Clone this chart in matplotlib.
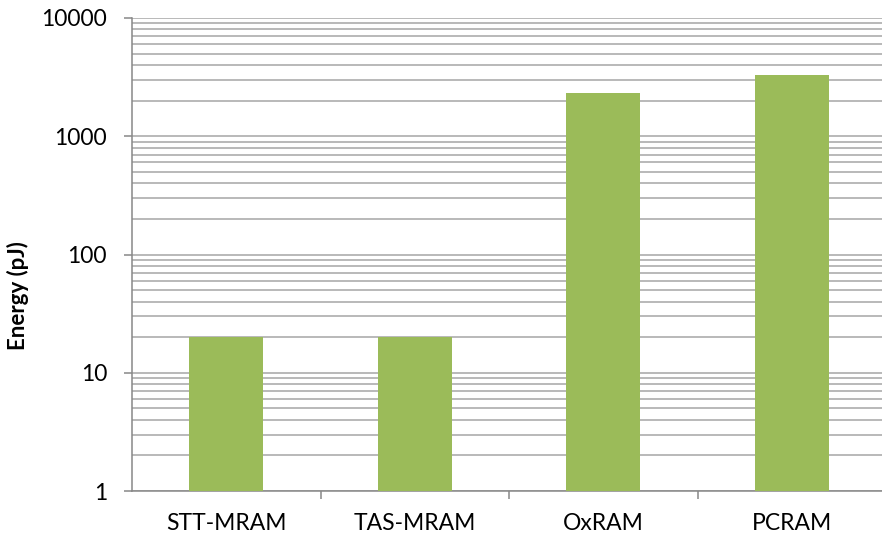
import matplotlib
matplotlib.use("Agg")
import matplotlib.pyplot as plt
from matplotlib.ticker import LogLocator, FixedFormatter, NullFormatter, FixedLocator

# data
categories = ["STT-MRAM", "TAS-MRAM", "OxRAM", "PCRAM"]
energy_pj = [20, 20, 2300, 3300]
y_ticks = [1, 10, 100, 1000, 10000]
y_tick_labels = ["1", "10", "100", "1000", "10000"]

plt.rcParams['font.family'] = ['Lato', 'DejaVu Sans']

fig = plt.figure(figsize=(8.82, 5.39), dpi=100)
W, H = 882, 539
ax = fig.add_axes([132 / W, 1 - 491 / H, (886 - 132) / W, (491 - 18) / H])

x = list(range(len(categories)))
ax.bar(x, energy_pj, width=0.39, color="#9BBB59", zorder=3)
ax.set_yscale("log")
ax.set_ylim(1, 10000)
ax.set_xlim(-0.5, len(categories) - 0.5)

ax.yaxis.set_major_locator(FixedLocator(y_ticks))
ax.yaxis.set_major_formatter(FixedFormatter(y_tick_labels))
ax.yaxis.set_minor_locator(LogLocator(base=10, subs=range(2, 10)))
ax.yaxis.set_minor_formatter(NullFormatter())
ax.grid(True, axis="y", which="both", color="#a6a6a6", linewidth=1.1, zorder=0)

ax.set_xticks(x)
ax.set_xticklabels(categories)
ax.set_xticks([i + 0.5 for i in x[:-1]], minor=True)
ax.tick_params(axis="x", which="major", length=0, pad=16, labelsize=16.5)
ax.tick_params(axis="x", which="minor", length=6, color="#888888", width=1.1)
ax.tick_params(axis="y", which="major", length=6, color="#888888", width=1.1, labelsize=16.5, pad=12)
ax.tick_params(axis="y", which="minor", length=0)

for side in ["top", "right"]:
    ax.spines[side].set_visible(False)
for side in ["left", "bottom"]:
    ax.spines[side].set_color("#888888")
    ax.spines[side].set_linewidth(1.1)

# y label placed by hand so it stays inside the figure
fig.text(18 / W, 1 - 296 / H, "Energy (pJ)", rotation=90, ha="center", va="center",
         fontsize=16, fontweight="bold")

fig.savefig("out.png", dpi=100)
